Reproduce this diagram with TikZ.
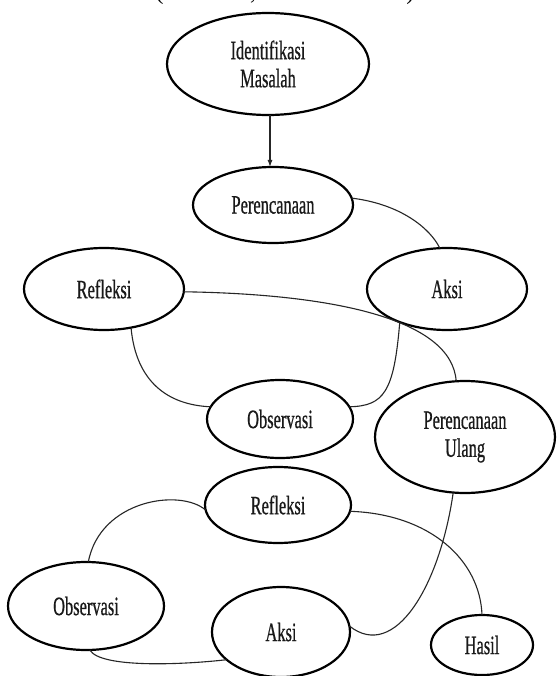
\documentclass[tikz,border=0pt]{standalone}
\usepackage{fontspec}
\usepackage{graphicx}
\setmainfont{Liberation Serif}
\newfontfamily\boxfont{Liberation Serif}[FakeBold=0.8]
\usetikzlibrary{shapes.geometric,arrows.meta}
\newcommand{\cnd}[1]{\scalebox{0.62}[1]{#1}}
\begin{document}
\begin{tikzpicture}[x=1pt,y=-1pt,
  elli/.style={ellipse,draw=black,line width=2.2pt,inner sep=0pt,outer sep=0pt,
     align=center,text=black!90,font=\boxfont\fontsize{26.5}{28}\selectfont},
  conn/.style={draw=black!85,line width=1.1pt},
  arr/.style={conn,-{Latex[length=7pt,width=5pt]}}]
\useasboundingbox (0,0) rectangle (556,676);
\fill[white] (0,0) rectangle (556,676);
\node[anchor=base,font=\fontsize{24}{28}\selectfont] (cap) at (285,0) {(Arikunto, Tahun 2010:21)};
\node[elli,minimum width=202pt,minimum height=102pt] (idm) at (268,64) {\cnd{Identifikasi}\\\cnd{Masalah}};
\node[elli,minimum width=160pt,minimum height=76pt] (per1) at (273,205) {\cnd{Perencanaan}};
\node[elli,minimum width=160pt,minimum height=82pt] (refl1) at (104,289) {\cnd{Refleksi}};
\node[elli,minimum width=160pt,minimum height=82pt] (aksi1) at (447,289) {\cnd{Aksi}};
\node[elli,minimum width=146pt,minimum height=78pt] (obs1) at (280,419) {\cnd{Observasi}};
\node[elli,minimum width=180pt,minimum height=112pt] (pu) at (465,437) {\cnd{Perencanaan}\\\cnd{Ulang}};
\node[elli,minimum width=146pt,minimum height=76pt] (refl2) at (278,505) {\cnd{Refleksi}};
\node[elli,minimum width=156pt,minimum height=88pt] (obs2) at (86,606) {\cnd{Observasi}};
\node[elli,minimum width=138pt,minimum height=90pt] (aksi2) at (281,632) {\cnd{Aksi}};
\node[elli,minimum width=102pt,minimum height=60pt] (hasil) at (482,645) {\cnd{Hasil}};
% connectors
\draw[arr] (idm.south -| 270,0) -- (per1.north -| 270,0);
\draw[conn] (per1.5) .. controls (400,204) and (430,228) .. (aksi1.100);
\draw[conn] (refl1.-2) .. controls (330,294) and (452,318) .. (pu.99);
\draw[conn] (refl1.-55) .. controls (136,382) and (168,405) .. (obs1.170);
\draw[conn] (aksi1.215) .. controls (394,392) and (384,406) .. (obs1.10);
\draw[conn] (pu.258) .. controls (440,585) and (395,662) .. (aksi2.5);
\draw[conn] (refl2.-5) .. controls (430,514) and (480,560) .. (hasil.north);
\draw[conn] (refl2.184) .. controls (180,488) and (100,500) .. (obs2.87);
\draw[conn] (obs2.275) .. controls (100,668) and (180,665) .. (aksi2.207);
\end{tikzpicture}
\end{document}
